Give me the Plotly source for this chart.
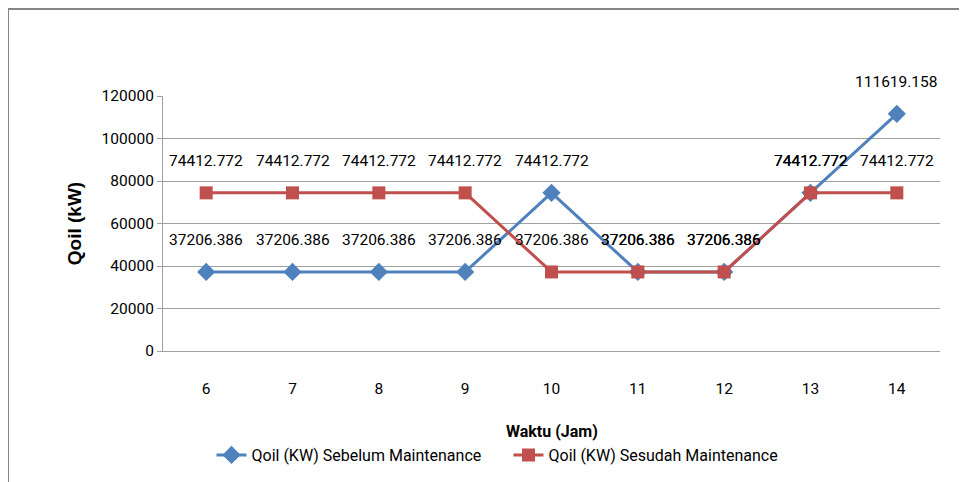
import plotly.graph_objects as go

jam = [6, 7, 8, 9, 10, 11, 12, 13, 14]
sebelum = [37206.386, 37206.386, 37206.386, 37206.386, 74412.772, 37206.386, 37206.386, 74412.772, 111619.158]
sesudah = [74412.772, 74412.772, 74412.772, 74412.772, 37206.386, 37206.386, 37206.386, 74412.772, 74412.772]
y_ticks = [0, 20000, 40000, 60000, 80000, 100000, 120000]
name_sebelum = "Qoil (KW) Sebelum Maintenance"
name_sesudah = "Qoil (KW) Sesudah Maintenance"
x_title = "Waktu (Jam)"
y_title = "Qoil (kW)"

BLUE = "#4F81BD"
RED = "#C0504D"
FONT = "Roboto, sans-serif"

fig = go.Figure()
fig.add_trace(go.Scatter(
    x=jam, y=sebelum, mode="lines+markers", name=name_sebelum,
    line=dict(color=BLUE, width=3),
    marker=dict(symbol="diamond", size=14, color=BLUE),
))
fig.add_trace(go.Scatter(
    x=jam, y=sesudah, mode="lines+markers", name=name_sesudah,
    line=dict(color=RED, width=3),
    marker=dict(symbol="square", size=13, color=RED),
))

annotations = []
for series in (sebelum, sesudah):
    for xv, yv in zip(jam, series):
        annotations.append(dict(
            x=xv, y=yv, xref="x", yref="y", text=f"{yv:.3f}",
            showarrow=False, yshift=32,
            font=dict(family=FONT, size=15.5, color="#000000"),
        ))
annotations.append(dict(
    x=0.5, y=-0.3176, xref="paper", yref="paper", xanchor="center", yanchor="middle",
    text=f"<b>{x_title}</b>", showarrow=False,
    font=dict(family=FONT, size=16, color="#000000"),
))

fig.update_layout(
    width=959, height=474,
    margin=dict(l=155, r=27, t=88, b=131),
    paper_bgcolor="white", plot_bgcolor="white",
    font=dict(family=FONT, size=15.5, color="#000000"),
    showlegend=True,
    legend=dict(
        orientation="h", xref="container", yref="container",
        x=0.2122, xanchor="left", y=0.057, yanchor="middle",
        font=dict(family=FONT, size=16, color="#000000"),
        itemwidth=30, tracegroupgap=0, entrywidth=252,
    ),
    annotations=annotations,
    shapes=[dict(
        type="rect", xref="paper", yref="paper",
        x0=-0.1995, x1=1.2, y0=-0.8, y1=1.341,
        line=dict(color="#858585", width=2), fillcolor="rgba(0,0,0,0)",
        layer="below",
    )],
)

fig.update_xaxes(
    range=[5.5, 14.5], tickmode="array", tickvals=jam, ticktext=[str(v) for v in jam],
    showgrid=False, zeroline=False, showline=True, linecolor="#A0A0A0", linewidth=1,
    ticks="", ticklabelstandoff=23, automargin=False,
)
fig.update_yaxes(
    range=[0, 120000], tickmode="array", tickvals=y_ticks, ticktext=[str(v) for v in y_ticks],
    showgrid=True, gridcolor="#A0A0A0", gridwidth=1, zeroline=False,
    showline=True, linecolor="#A0A0A0", linewidth=1, automargin=False,
    ticks="outside", ticklen=5, tickcolor="#A0A0A0",
    title=dict(text=f"<b>{y_title}</b>", standoff=14,
               font=dict(family="Liberation Sans, Arial, sans-serif", size=19, color="#000000")),
)

fig.write_html("out.html")
